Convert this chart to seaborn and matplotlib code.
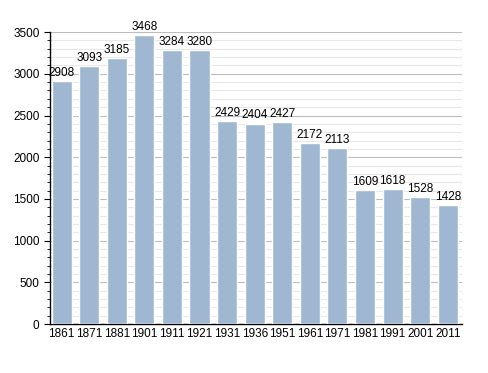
import matplotlib
matplotlib.use("Agg")
import matplotlib.pyplot as plt
import seaborn as sns
import pandas as pd
from matplotlib.ticker import MultipleLocator

years = ["1861", "1871", "1881", "1901", "1911", "1921", "1931", "1936",
         "1951", "1961", "1971", "1981", "1991", "2001", "2011"]
population = [2908, 3093, 3185, 3468, 3284, 3280, 2429, 2404,
              2427, 2172, 2113, 1609, 1618, 1528, 1428]

df = pd.DataFrame({"year": years, "pop": population})

sns.set_style("white")
plt.rcParams["font.family"] = ["Liberation Sans", "DejaVu Sans"]
plt.rcParams["text.color"] = "black"
plt.rcParams["xtick.color"] = "black"
plt.rcParams["ytick.color"] = "black"

fig = plt.figure(figsize=(4.88, 3.73), dpi=100)
ax = fig.add_axes([0.1025, 0.131, 0.845, 0.783])

sns.barplot(x="year", y="pop", data=df, color="#a0b7d1", saturation=1,
            width=0.73, ax=ax, zorder=3)

ax.set_ylim(0, 3500)
ax.set_xlim(-0.42, 14.53)
ax.yaxis.set_major_locator(MultipleLocator(500))
ax.yaxis.set_minor_locator(MultipleLocator(100))
ax.grid(axis="y", which="major", color="#bdbdbd", lw=0.8, zorder=0)
ax.grid(axis="y", which="minor", color="#e8e8e8", lw=0.8, zorder=0)
ax.tick_params(axis="y", which="major", length=4, width=0.8, color="black",
               labelsize=8.5, left=True)
ax.tick_params(axis="y", which="minor", length=2, width=0.6, color="black", left=True)
ax.tick_params(axis="x", length=0, labelsize=8.5, pad=3)

for i, v in enumerate(population):
    ax.text(i, v + 25, str(v), ha="center", va="bottom", fontsize=8.5, color="black")

ax.set_xlabel("")
ax.set_ylabel("")
for s in ["top", "right"]:
    ax.spines[s].set_visible(False)
ax.spines["left"].set_color("black")
ax.spines["bottom"].set_color("black")
ax.spines["left"].set_linewidth(1)
ax.spines["bottom"].set_linewidth(1)

fig.savefig("out.png", dpi=100)
